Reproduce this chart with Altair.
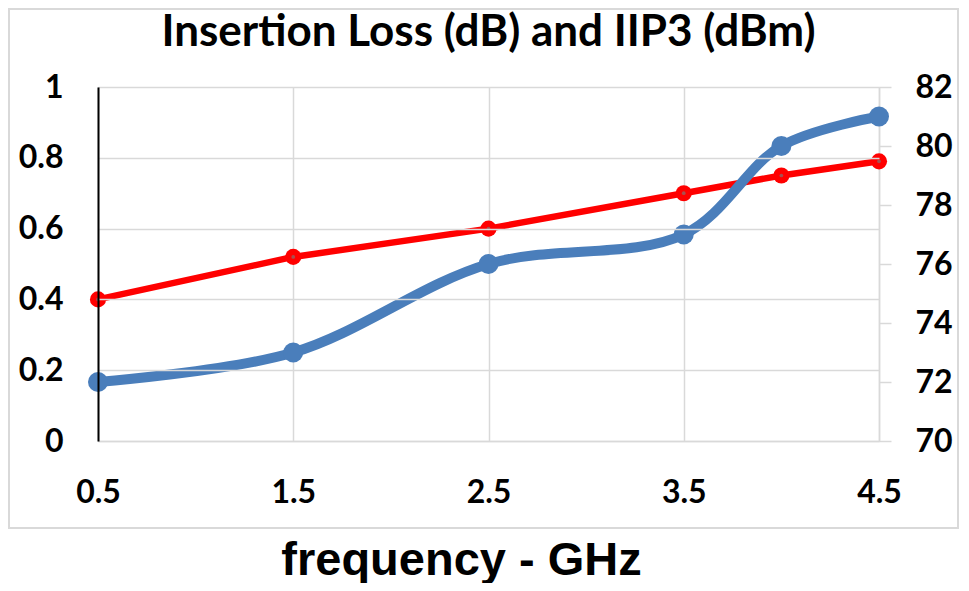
import altair as alt
import pandas as pd

freq = [0.5, 1.5, 2.5, 3.5, 4.0, 4.5]
insertion_loss = [0.40, 0.52, 0.60, 0.70, 0.75, 0.79]
iip3 = [72, 73, 76, 77, 80, 81]
x_ticks = [0.5, 1.5, 2.5, 3.5, 4.5]
left_ticks = [0, 0.2, 0.4, 0.6, 0.8, 1.0]
right_ticks = [70, 72, 74, 76, 78, 80, 82]

df = pd.DataFrame({"freq": freq, "il": insertion_loss, "iip3": iip3})

GRID = "#d9d9d9"
LFONT = "Lato"

xaxis = alt.Axis(
    values=x_ticks, format=".1f", title="frequency - GHz",
    grid=True, gridColor=GRID, gridWidth=1.5,
    domainColor=GRID, domainWidth=1.5, ticks=False, tickSize=0,
    labelFont=LFONT, labelFontSize=32, labelFontWeight="bold", labelColor="black",
    labelPadding=36, labelBaseline="top", labelFlush=False,
    titleFont="Liberation Sans", titleFontSize=47, titleFontWeight="bold",
    titleColor="black", titlePadding=29, titleX=363, titleAlign="center",
)
xenc = alt.X("freq:Q", scale=alt.Scale(domain=[0.5, 4.5], nice=False), axis=xaxis)

border = alt.Chart(df).mark_rect(filled=False, stroke=GRID, strokeWidth=2).encode(
    x=alt.value(-89), x2=alt.value(860), y=alt.value(-78), y2=alt.value(441)
)

red_base = alt.Chart(df).encode(
    x=xenc,
    y=alt.Y(
        "il:Q",
        scale=alt.Scale(domain=[0, 1], nice=False),
        axis=alt.Axis(
            orient="left", values=left_ticks, format="~g", title=None,
            grid=True, gridColor=GRID, gridWidth=1.5,
            domainColor="black", domainWidth=2, ticks=False, tickSize=0,
            labelFont=LFONT, labelFontSize=32, labelFontWeight="bold", labelColor="black",
            labelPadding=35, zindex=1,
        ),
    ),
)
red_line = red_base.mark_line(color="#ff0000", strokeWidth=6.5)
red_pts = red_base.mark_point(filled=True, color="#ff0000", size=260, opacity=1)
red_dot = red_base.mark_point(filled=True, color="#a85050", size=14, opacity=1)
red = alt.layer(red_line, red_pts, red_dot)

blue_base = alt.Chart(df).encode(
    x=xenc,
    y=alt.Y(
        "iip3:Q",
        scale=alt.Scale(domain=[70, 82], nice=False),
        axis=alt.Axis(
            orient="right", values=right_ticks, title=None, grid=False,
            domainColor=GRID, domainWidth=1.5, tickColor=GRID, tickWidth=1.5, tickSize=12,
            labelFont=LFONT, labelFontSize=32, labelFontWeight="bold", labelColor="black",
            labelPadding=24,
        ),
    ),
)
blue_line = blue_base.mark_line(color="#4a7ebb", strokeWidth=10, interpolate="catmull-rom")
blue_pts = blue_base.mark_point(filled=True, color="#4a7ebb", size=400, opacity=1)
blue = alt.layer(blue_line, blue_pts)

chart = (
    alt.layer(border, red, blue)
    .resolve_scale(y="independent")
    .properties(
        width=781,
        height=354,
        autosize=alt.AutoSizeParams(type="none"),
        padding={"left": 90, "top": 79, "right": 80, "bottom": 142},
        title=alt.TitleParams(
            "Insertion Loss (dB) and IIP3 (dBm)", font=LFONT, fontSize=44,
            fontWeight="bold", color="black", anchor="middle", offset=-47,
        ),
    )
    .configure_view(strokeWidth=0)
    .configure(background="white")
)

chart.save("out.html", embed_options={"renderer": "svg", "actions": False})
